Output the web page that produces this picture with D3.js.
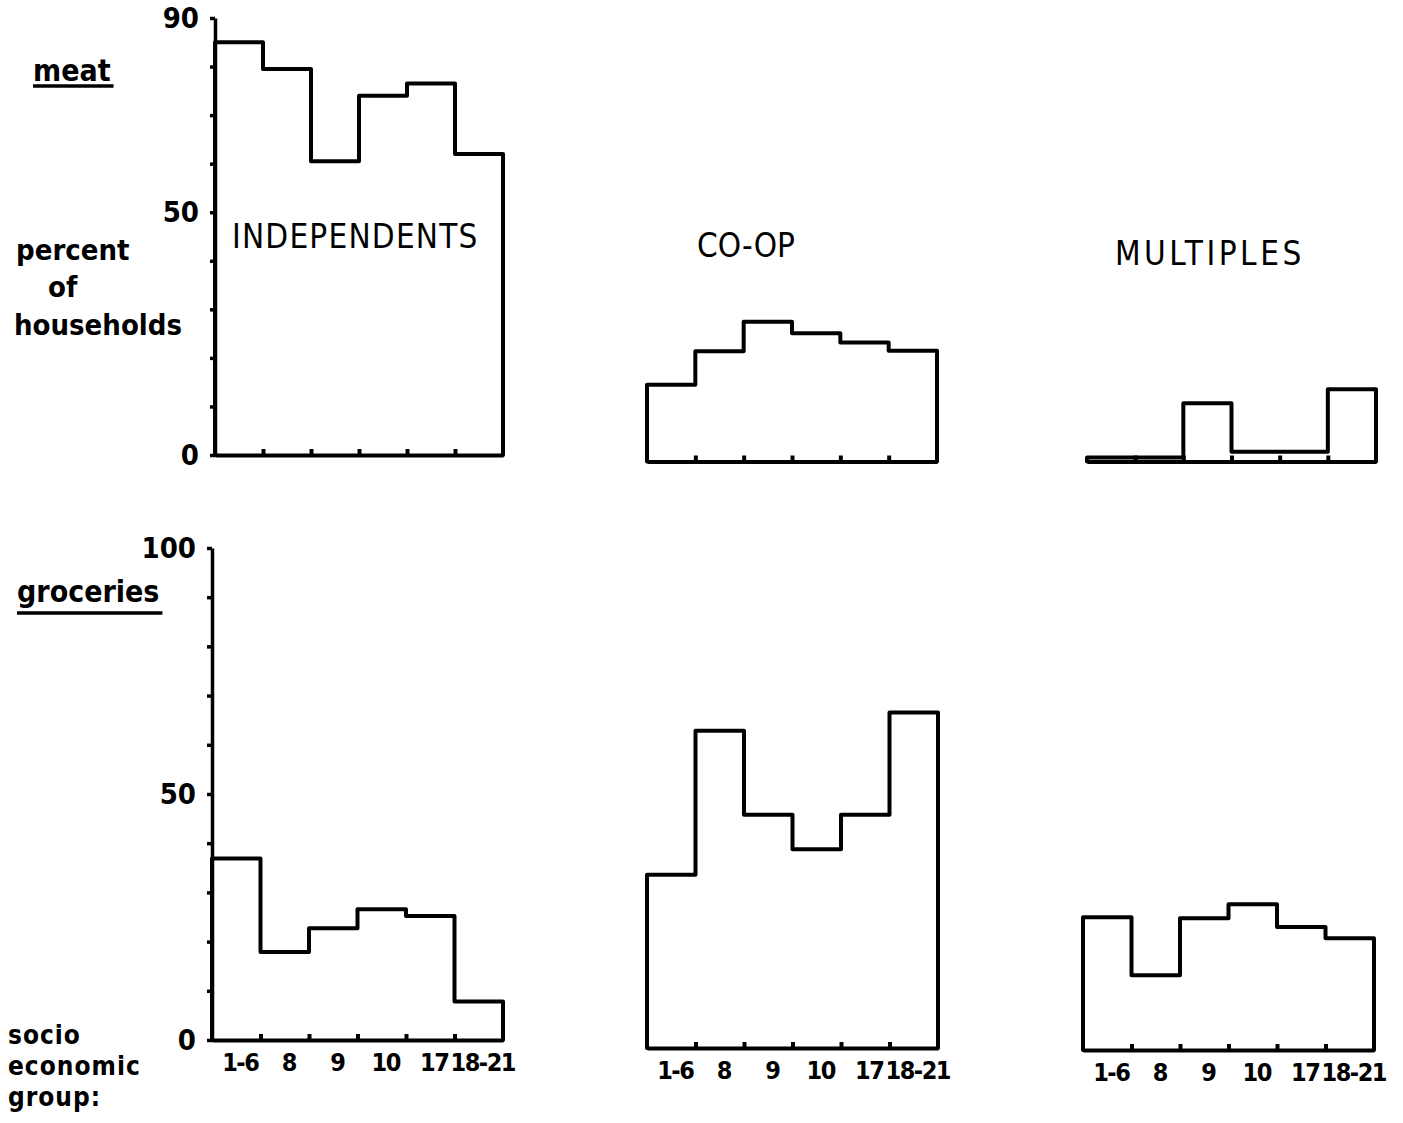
<!DOCTYPE html>
<html>
<head>
<meta charset="utf-8">
<script src="https://cdn.jsdelivr.net/npm/d3@7"></script>
<style>
  body { margin: 0; background: #fff; }
  svg { display: block; }
  text {
    font-family: "DejaVu Sans Condensed", "DejaVu Sans", sans-serif;
    font-stretch: condensed;
    fill: #000;
  }
</style>
</head>
<body>
<script>
// page size
const w = 1403;
const h = 1123;

// socio economic groups (x categories)
const groups = ["1-6", "8", "9", "10", "17", "18-21"];

// percent of households, meat
const meatIndependents = [85, 79.5, 60.5, 74, 76.5, 62];
const meatCoop = [15.8, 22.7, 28.8, 26.4, 24.5, 22.8];
const meatMultiples = [0.8, 0.8, 12, 2, 2, 14.9];

// percent of households, groceries
const groceriesIndependents = [36.9, 17.9, 22.7, 26.6, 25.2, 7.8];
const groceriesCoop = [35.2, 64.5, 47.4, 40.4, 47.4, 68.2];
const groceriesMultiples = [27, 15.2, 26.8, 29.6, 25, 22.7];

// y tick labels
const meatTickLabels = [0, 50, 90];
const groceriesTickLabels = [0, 50, 100];

const shopTitles = ["INDEPENDENTS", "CO-OP", "MULTIPLES"];

const lineWidth = 4;

// rows: scale extent in px for each
const rows = {
  meat: { max: 90, height: 437, ticks: meatTickLabels, labels: false },
  groceries: { max: 100, height: 492, ticks: groceriesTickLabels, labels: true },
};

// panel placement on the page (hand drawn, so slightly uneven)
const panels = [
  { row: "meat", values: meatIndependents, left: 215, right: 503, base: 455, axis: true,
    title: shopTitles[0], tx: 232, ty: 248, ls: 1.2 },
  { row: "meat", values: meatCoop, left: 647, right: 937, base: 461.5,
    title: shopTitles[1], tx: 697, ty: 257, ls: 0 },
  { row: "meat", values: meatMultiples, left: 1087, right: 1376, base: 461.5,
    title: shopTitles[2], tx: 1115, ty: 265, ls: 3.5 },
  { row: "groceries", values: groceriesIndependents, left: 212, right: 503, base: 1040, axis: true },
  { row: "groceries", values: groceriesCoop, left: 647, right: 938, base: 1048 },
  { row: "groceries", values: groceriesMultiples, left: 1083, right: 1374, base: 1050 },
];

const svg = d3
  .select("body")
  .append("svg")
  .attr("width", w)
  .attr("height", h);

panels.forEach((p) => {
  const row = rows[p.row];
  const pw = p.right - p.left;

  const x = d3.scaleLinear().domain([0, groups.length]).range([0, pw]);
  const band = d3.scaleBand().domain(groups).range([0, pw]);
  const y = d3.scaleLinear().domain([0, row.max]).range([0, -row.height]);

  const g = svg.append("g").attr("transform", `translate(${p.left},${p.base})`);

  // baseline, with little upward ticks between the groups
  g.append("g")
    .call(
      d3
        .axisBottom(x)
        .tickValues(d3.range(1, groups.length))
        .tickSizeInner(-6)
        .tickSizeOuter(0)
        .tickFormat("")
    )
    .call((a) => a.selectAll("path, line").attr("stroke", "#000").attr("stroke-width", lineWidth));

  // group labels under the bars
  if (row.labels) {
    g.append("g")
      .attr("transform", "translate(4,0)")
      .call(d3.axisBottom(band).tickSize(0).tickPadding(13))
      .call((a) => a.select(".domain").remove())
      .call((a) => a.selectAll("text").attr("letter-spacing", -1.5))
      .attr("font-size", 25)
      .attr("font-weight", "bold");
  }

  // percent axis (only on the left panels)
  if (p.axis) {
    g.append("g")
      .call(
        d3
          .axisLeft(y)
          .tickValues(d3.range(0, row.max + 1, 10))
          .tickSizeInner(5)
          .tickSizeOuter(0)
          .tickPadding(11)
          .tickFormat((d) => (row.ticks.includes(d) ? d : ""))
      )
      .call((a) => a.selectAll("path, line").attr("stroke", "#000").attr("stroke-width", lineWidth - 0.5))
      .attr("font-size", 29)
      .attr("font-weight", "bold");
  }

  // step outline of the histogram
  const n = p.values.length;
  const pts = [[0, 0]]
    .concat(p.values.map((v, i) => [i, v]))
    .concat([[n, p.values[n - 1]], [n, 0]]);

  g.append("path")
    .datum(pts)
    .attr("fill", "none")
    .attr("stroke", "#000")
    .attr("stroke-width", lineWidth)
    .attr("stroke-linejoin", "round")
    .attr("stroke-linecap", "round")
    .attr(
      "d",
      d3
        .line()
        .x((d) => x(d[0]))
        .y((d) => y(d[1]))
        .curve(d3.curveStepAfter)
    );

  if (p.title) {
    svg
      .append("text")
      .attr("x", p.tx)
      .attr("y", p.ty)
      .attr("font-size", 33)
      .attr("letter-spacing", p.ls)
      .text(p.title);
  }
});

// side labels
const sideLabels = [
  { text: "meat", x: 33, y: 81, size: 30, underline: 86 },
  { text: "percent", x: 16, y: 260, size: 29 },
  { text: "of", x: 48, y: 297, size: 29 },
  { text: "households", x: 14, y: 335, size: 29 },
  { text: "groceries", x: 17, y: 602, size: 30, underline: 613 },
  { text: "socio", x: 8, y: 1044, size: 26 },
  { text: "economic", x: 8, y: 1075, size: 26 },
  { text: "group:", x: 8, y: 1106, size: 26 },
];

sideLabels.forEach((l) => {
  const t = svg
    .append("text")
    .attr("x", l.x)
    .attr("y", l.y)
    .attr("font-size", l.size)
    .attr("font-weight", "bold")
    .attr("letter-spacing", l.size < 29 ? 1 : 0)
    .text(l.text);
  if (l.underline) {
    const len = t.node().getComputedTextLength();
    svg
      .append("line")
      .attr("x1", l.x)
      .attr("x2", l.x + len + 3)
      .attr("y1", l.underline)
      .attr("y2", l.underline)
      .attr("stroke", "#000")
      .attr("stroke-width", 3.5);
  }
});
</script>
</body>
</html>
